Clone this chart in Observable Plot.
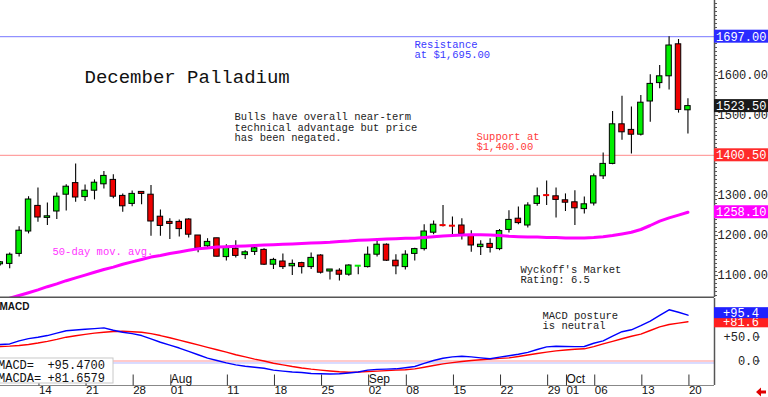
<!DOCTYPE html>
<html><head><meta charset="utf-8">
<script src="https://cdn.jsdelivr.net/npm/d3@7"></script>
<script src="https://cdn.jsdelivr.net/npm/@observablehq/plot@0.6"></script>
<style>
body{margin:0;background:#fff;}
#wrap{position:relative;width:768px;height:397px;overflow:hidden;background:#fff;}
#wrap svg{position:absolute;left:0;}
</style></head><body><div id="wrap"></div>
<script>
// ---------- data ----------
const dates = [
"2014-07-08","2014-07-09","2014-07-10","2014-07-11",
"2014-07-14","2014-07-15","2014-07-16","2014-07-17","2014-07-18",
"2014-07-21","2014-07-22","2014-07-23","2014-07-24","2014-07-25",
"2014-07-28","2014-07-29","2014-07-30","2014-07-31","2014-08-01",
"2014-08-04","2014-08-05","2014-08-06","2014-08-07","2014-08-08",
"2014-08-11","2014-08-12","2014-08-13","2014-08-14","2014-08-15",
"2014-08-18","2014-08-19","2014-08-20","2014-08-21","2014-08-22",
"2014-08-25","2014-08-26","2014-08-27","2014-08-28","2014-08-29",
"2014-09-02","2014-09-03","2014-09-04","2014-09-05",
"2014-09-08","2014-09-09","2014-09-10","2014-09-11","2014-09-12",
"2014-09-15","2014-09-16","2014-09-17","2014-09-18","2014-09-19",
"2014-09-22","2014-09-23","2014-09-24","2014-09-25","2014-09-26",
"2014-09-29","2014-09-30","2014-10-01","2014-10-02","2014-10-03",
"2014-10-06","2014-10-07","2014-10-08","2014-10-09","2014-10-10",
"2014-10-13","2014-10-14","2014-10-15","2014-10-16","2014-10-17",
"2014-10-20"];
const open = [
1128,1129,1154,1210,1274,1244,1260,1302,1331,1296,
1312,1328,1339,1299,1279,1309,1302,1247,1234,1234,
1240,1200,1173,1193,1146,1167,1151,1159,1164,1127,
1135,1123,1131,1121,1150,1110,1112,1102,1123.5,1121,
1152,1177,1137,1121,1154,1166,1207,1227,1226,1225,
1200,1171,1179,1166,1214,1242,1225,1279,1302,1298,
1288,1283,1266,1280,1348,1379,1478,1464,1452,1535,
1581,1598,1678,1513];
const high = [
1135,1156,1222,1297,1319,1281,1306,1327,1379,1326,
1339,1360,1352,1304,1311,1309,1325,1264,1242,1239,
1242,1200,1192,1193,1177,1187,1162,1171,1167,1143,
1154,1139,1133,1156,1152,1115,1117,1127,1124.5,1171,
1189,1179,1152,1162,1168,1227,1236,1275,1246,1242,
1212,1187,1192,1215,1262,1271,1282,1319,1336,1319,
1304,1312,1296,1354,1406,1510,1548,1521,1550,1602,
1625,1697,1690,1542];
const low = [
1124,1117,1146,1204,1233,1225,1240,1261,1283,1285,
1289,1316,1292,1258,1272,1277,1198,1198,1190,1196,
1194,1157,1168,1146,1136,1144,1140,1150,1125,1115,
1115,1100,1104,1115,1104,1089,1086,1098,1102,1119,
1146,1135,1102,1114,1136,1161,1202,1221,1200,1189,
1158,1150,1156,1162,1206,1227,1219,1273,1275,1244,
1260,1225,1254,1274,1340,1377,1438,1404,1449,1483,
1567,1564,1506,1454];
const close = [
1133,1152,1212,1290,1245,1248,1297,1322,1295,1312,
1332,1349,1297,1273,1304,1304,1235,1224,1229,1216,
1202,1168,1184,1147,1169,1149,1158,1168,1127,1139,
1121,1129,1121,1144,1107,1115,1102,1125,1124.5,1152,
1177,1137,1123,1152,1166,1210,1227,1226,1224.5,1204,
1175,1177,1169,1211,1239,1231,1275,1298,1301,1289,
1282,1268,1278,1348,1379,1478,1458,1452,1532,1579,
1598,1675,1514,1523.5];
const ma50 = [
1036,1043,1050,1057,1064,1072,1079,1087,1094,1101,
1108,1115,1121,1128,1134,1140,1146,1150,1155,1159,
1163,1167,1169,1171,1172,1173,1174,1175,1176,1177,
1178,1179,1180,1181,1182,1183,1185,1186,1188,1189,
1190,1191,1192,1193,1193,1195,1197,1199,1200,1201,
1202,1202,1201,1200,1198,1197,1196,1196,1195,1195,
1194,1194,1194,1195,1197,1200,1204,1208,1215,1225,
1236,1244,1251,1258.1];
const macd = [
34.4,35.5,42,46.5,49.5,53,58,63,64.5,66,
67.5,69,64,60,57,53,46,39,33,27,
20,13,6,1,-4,-8,-11,-13,-15,-19,
-21,-23,-24,-26,-26.7,-27,-26.7,-25,-23,-19,
-17.5,-17,-16.3,-14,-11.5,-5,1,5.8,8.5,10,
8.5,6.5,4.6,8,11,14,18,24,29.5,30.8,
30.2,30,30.2,37,42,52,61,65,73.5,83,
95,106.7,101.5,95.47];
const macda = [
30.2,31,32.3,34.5,37.5,41,45,49.6,52.5,55.5,
58,60,61.5,62,61,60,57,53,48.5,43.5,
38.5,33.5,28.5,23.5,18.5,13,8.5,4,0,-4.6,
-8,-11.5,-14.5,-17,-19,-20.8,-22.3,-23.3,-23,-22,
-21,-20,-19,-18.3,-16.5,-13,-9.5,-6,-3.5,-1,
1,2.5,4,5.5,6.5,9.5,12.5,15.5,18.5,21,
23,24.5,25.4,30,35.8,41,46.3,51.5,56,63.5,
71,76,79,81.6579];
const tickDates = ["2014-07-14","2014-07-21","2014-07-28","2014-08-01","2014-08-11","2014-08-18","2014-08-25","2014-09-02","2014-09-08","2014-09-15","2014-09-22","2014-09-29","2014-10-01","2014-10-06","2014-10-13","2014-10-20"];
const tickLabels = ["14","21","28","01","11","18","25","02","08","15","22","29","01","06","13","20"];
const monthDates = ["2014-08-01","2014-09-02","2014-10-01"];
const monthLabels = ["Aug","Sep","Oct"];
const priceTicks = [1100,1200,1300,1400,1500,1600];
const macdTicks = [0,50];
const resistance = 1697.00, support = 1400.50, lastClose = 1523.50, lastMA = 1258.10;
const macdValue = 95.47, macdaValue = 81.6579;
const titleText = "December Palladium";
const commentText = "Bulls have overall near-term\ntechnical advantage but price\nhas been negated.";
const resistanceText = "Resistance\nat $1,695.00";
const supportText = "Support at\n$1,400.00";
const maText = "50-day mov. avg.";
const ratingText = "Wyckoff's Market\nRating: 6.5";
const postureText = "MACD posture\nis neutral";

// ---------- setup ----------
const MONO = "'Liberation Mono','DejaVu Sans Mono',monospace";
const SANS = "'Liberation Sans',Arial,sans-serif";
const rows = dates.map((d, i) => ({p: i, date: d, open: open[i], high: high[i], low: low[i], close: close[i], ma: ma50[i], macd: macd[i], sig: macda[i]}));
const pos = d => dates.indexOf(d);
const labelOf = new Map(tickDates.map((d, i) => [pos(d), tickLabels[i]]));
const xDomain = [0.023, 75.82];
const yDomain = [1045, 1787.5];
const mDomain = [-51.04, 130.2];
const UP = "#00ee00", DOWN = "#ee0000";
const isDoji = d => Math.abs(d.close - d.open) < 2.5;
const col = d => d.close >= d.open ? UP : DOWN;
const minorTicks = d3.range(1050, 1790, 10).filter(v => v % 100 !== 0);
const trunc1 = v => (v < 0 ? "" : "+") + (Math.trunc(v * 10) / 10).toFixed(1);
const wrap = document.getElementById("wrap");

const price = Plot.plot({
  width: 768, height: 298, marginLeft: 0, marginRight: 54, marginTop: 0, marginBottom: 1,
  x: {domain: xDomain, axis: null, label: null},
  y: {domain: yDomain, label: null},
  color: {type: "identity"},
  style: {fontFamily: MONO, background: "#fff", color: "#222"},
  marks: [
    Plot.ruleY([resistance], {stroke: "#7878ff"}),
    Plot.ruleY([support], {stroke: "#ff8a8a"}),
    Plot.ruleX(rows, {x: "p", y1: "low", y2: "high", stroke: "#000", strokeWidth: 1.1, clip: true}),
    Plot.rect(rows.filter(d => !isDoji(d)), {x1: d => d.p - 0.29, x2: d => d.p + 0.29, y1: "open", y2: "close", fill: col, stroke: "#000", strokeWidth: 1, clip: true}),
    Plot.ruleY(rows.filter(isDoji), {y: "close", x1: d => d.p - 0.32, x2: d => d.p + 0.32, stroke: col, strokeWidth: 2}),
    Plot.line(rows, {x: "p", y: "ma", stroke: "#ff00ff", strokeWidth: 3, clip: true}),
    Plot.ruleX([xDomain[1]], {stroke: "#555", strokeWidth: 1.5}),
    Plot.ruleY([yDomain[0]], {stroke: "#555", strokeWidth: 2}),
    Plot.axisY(minorTicks, {anchor: "right", tickSize: 2, tickFormat: () => "", stroke: "#555"}),
    Plot.axisY(priceTicks, {anchor: "right", tickSize: 3, tickPadding: 0, tickFormat: d => d.toFixed(2), fontSize: 12, fontFamily: MONO, fill: "#222", stroke: "#555"}),
    Plot.text([titleText], {frameAnchor: "top-left", dx: 84, dy: 76.5, lineAnchor: "middle", textAnchor: "start", fontSize: 19, fontFamily: MONO, fill: "#111"}),
    Plot.text([commentText], {frameAnchor: "top-left", dx: 234, dy: 112.5, lineAnchor: "top", textAnchor: "start", fontSize: 10.5, lineHeight: 1, fontFamily: MONO, fill: "#222"}),
    Plot.text([resistanceText], {frameAnchor: "top-left", dx: 414, dy: 40.5, lineAnchor: "top", textAnchor: "start", fontSize: 10.5, lineHeight: 0.95, fontFamily: MONO, fill: "#3a3aff"}),
    Plot.text([supportText], {frameAnchor: "top-left", dx: 476, dy: 132.5, lineAnchor: "top", textAnchor: "start", fontSize: 10.5, lineHeight: 0.95, fontFamily: MONO, fill: "#ff3a3a"}),
    Plot.text([maText], {frameAnchor: "top-left", dx: 52, dy: 251.5, lineAnchor: "middle", textAnchor: "start", fontSize: 10.5, fontFamily: MONO, fill: "#ff33ff"}),
    Plot.text([ratingText], {frameAnchor: "top-left", dx: 520, dy: 265, lineAnchor: "top", textAnchor: "start", fontSize: 10.5, lineHeight: 0.98, fontFamily: MONO, fill: "#222"})
  ]
});
price.style.top = "0px";
wrap.appendChild(price);

// value badges on the price axis
{
  const ys = price.scale("y"), xr = price.scale("x").range[1];
  const g = d3.select(price).append("g").attr("font-family", MONO).attr("font-size", 12).attr("text-anchor", "start");
  [[resistance, "#2b2bff"], [lastClose, "#1a1a1a"], [support, "#ff2b2b"], [lastMA, "#ff00ff"]].forEach(([v, c]) => {
    const y = ys.apply(v);
    g.append("rect").attr("x", xr).attr("y", y - 6.5).attr("width", 768 - xr).attr("height", 13).attr("fill", c);
    g.append("text").attr("x", xr + 2).attr("y", y).attr("dy", "0.36em").attr("text-anchor", "start").attr("fill", "#fff").text(v.toFixed(2));
  });
}

const mplot = Plot.plot({
  width: 768, height: 99, marginLeft: 0, marginRight: 54, marginTop: 0, marginBottom: 12,
  x: {domain: xDomain, label: null},
  y: {domain: mDomain, label: null},
  style: {fontFamily: MONO, background: "#fff", color: "#222"},
  marks: [
    Plot.ruleY([0], {stroke: "#ffcaca", strokeWidth: 2}),
    Plot.ruleY([0], {stroke: "#b4b8ff", dy: 2}),
    Plot.line(rows, {x: "p", y: "sig", stroke: "#ff0000", strokeWidth: 1.4, clip: true}),
    Plot.line(rows, {x: "p", y: "macd", stroke: "#0000ff", strokeWidth: 1.4, clip: true}),
    Plot.ruleX([xDomain[1]], {stroke: "#555", strokeWidth: 1.5}),
    Plot.ruleY([mDomain[0]], {stroke: "#888"}),
    Plot.axisX([...labelOf.keys()], {anchor: "bottom", tickSize: 11, tickPadding: 0, tickFormat: d => labelOf.get(d), textAnchor: "start", dx: 1, dy: -10.5, fontSize: 11.5, fontFamily: SANS, fill: "#111", stroke: "#333"}),
    Plot.axisY(macdTicks, {anchor: "right", tickSize: 3, tickPadding: 0, textAnchor: "end", dx: 42, tickFormat: d => d === 0 ? "0.0" : trunc1(d), fontSize: 12, fontFamily: MONO, fill: "#222", stroke: "#555"}),
    Plot.text(monthDates, {x: pos, text: (d, i) => monthLabels[i], frameAnchor: "bottom", lineAnchor: "middle", textAnchor: "start", dx: 1, dy: -6, fontSize: 12, fontFamily: SANS, fill: "#111"}),
    Plot.text(["MACD"], {frameAnchor: "top-left", dx: -1, dy: 4.5, lineAnchor: "top", textAnchor: "start", fontSize: 10, fontWeight: "bold", fontFamily: SANS, fill: "#111"}),
    Plot.text([postureText], {frameAnchor: "top-left", dx: 542, dy: 13.3, lineAnchor: "top", textAnchor: "start", fontSize: 10.5, lineHeight: 0.95, fontFamily: MONO, fill: "#222"})
  ]
});
mplot.style.top = "298px";
wrap.appendChild(mplot);

{
  const ys = mplot.scale("y"), xr = mplot.scale("x").range[1];
  const svg = d3.select(mplot);
  const g = svg.append("g").attr("font-family", MONO).attr("font-size", 12);
  // readout box
  const y0 = ys.apply(0);
  g.append("rect").attr("x", -1).attr("y", y0 - 2.5).attr("width", 114).attr("height", 25).attr("fill", "#fff").attr("stroke", "#c8c8c8");
  [["MACD=", macdValue], ["MACDA=", macdaValue]].forEach(([k, v], i) => {
    g.append("text").attr("x", -2).attr("y", y0 + 9 + i * 13).attr("text-anchor", "start").attr("fill", "#111").text(k);
    g.append("text").attr("x", 105).attr("y", y0 + 9 + i * 13).attr("text-anchor", "end").attr("fill", "#111").text("+" + v.toFixed(4));
  });
  // axis badges
  [[macdaValue, "#ff2020", 0.5], [macdValue, "#2020ff", -2]].forEach(([v, c, o]) => {
    const y = ys.apply(v) + o;
    g.append("rect").attr("x", xr).attr("y", y - 5.5).attr("width", 768 - xr).attr("height", 11).attr("fill", c);
    g.append("text").attr("x", 759).attr("y", y).attr("dy", "0.36em").attr("text-anchor", "end").attr("fill", "#fff").text(trunc1(v));
  });
  // small red arrow
  svg.append("path").attr("d", "M766,92.5 L761,92.5 L761,89.5 L756,94 L761,98.5 L761,95.5 L766,95.5 Z").attr("fill", "#e00000");
}
</script></body></html>
